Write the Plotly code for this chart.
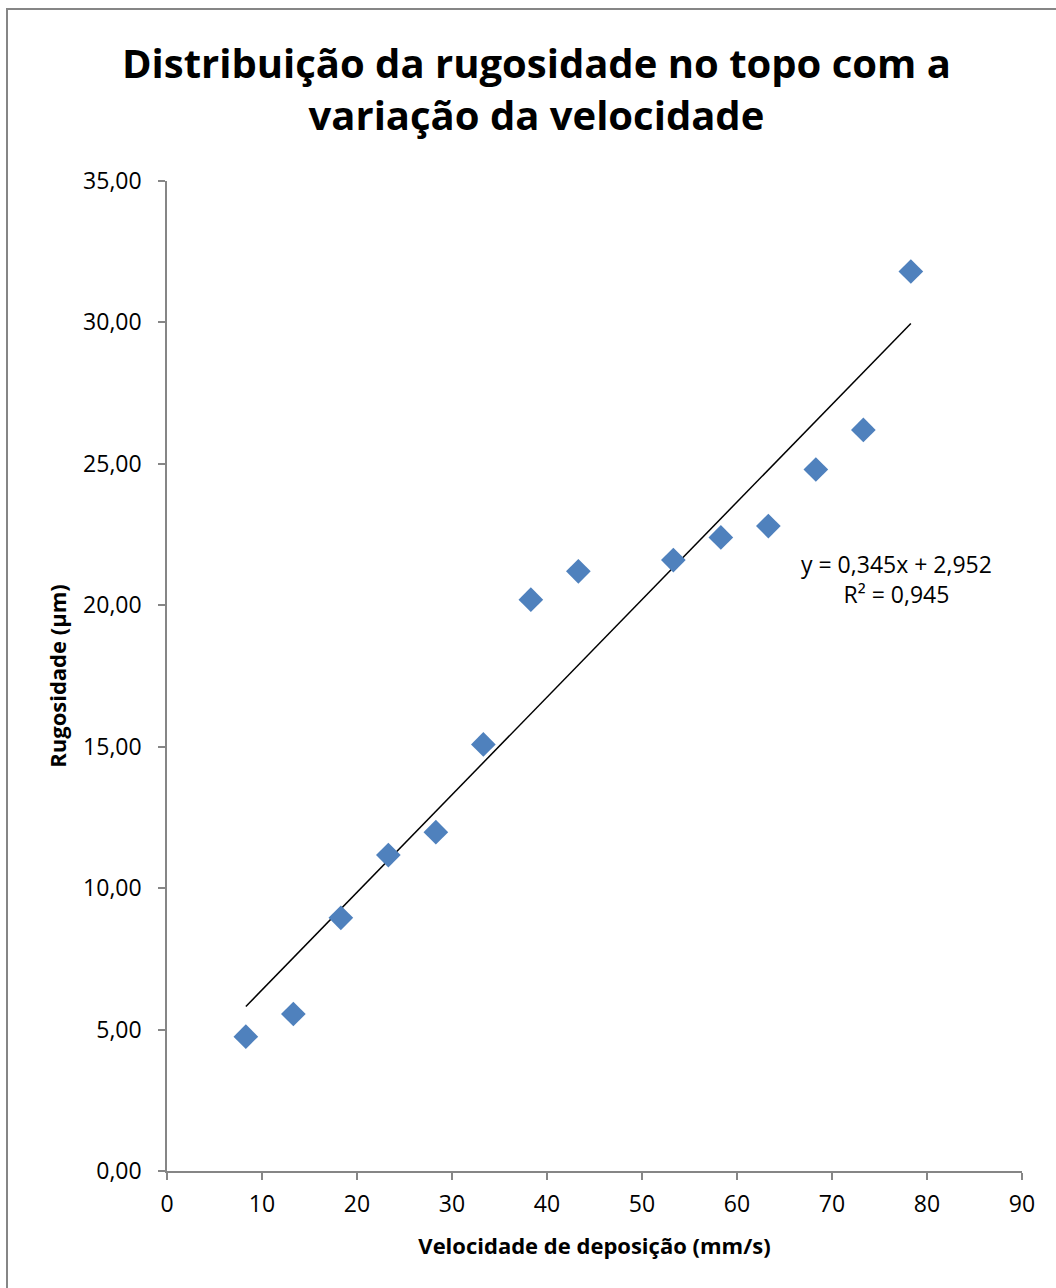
import numpy as np
import plotly.graph_objects as go

# Data
velocidade = [8.3, 13.3, 18.3, 23.3, 28.3, 33.3, 38.3, 43.3, 53.3, 58.3, 63.3, 68.3, 73.3, 78.3]
rugosidade = [4.75, 5.55, 8.95, 11.17, 11.98, 15.08, 20.2, 21.2, 21.6, 22.4, 22.8, 24.8, 26.2, 31.8]

# Trendline coefficients shown in the chart
slope = 0.345
intercept = 2.952
r2 = 0.945

y_ticks = [0, 5, 10, 15, 20, 25, 30, 35]
y_tick_labels = ["0,00", "5,00", "10,00", "15,00", "20,00", "25,00", "30,00", "35,00"]
x_ticks = [0, 10, 20, 30, 40, 50, 60, 70, 80, 90]

FONT = "Open Sans"

fig = go.Figure()

trend_x = [min(velocidade), max(velocidade)]
trend_y = [slope * v + intercept for v in trend_x]
fig.add_trace(go.Scatter(
    x=trend_x, y=trend_y, mode="lines",
    line=dict(color="black", width=1.5), hoverinfo="skip", showlegend=False,
))

fig.add_trace(go.Scatter(
    x=velocidade, y=rugosidade, mode="markers",
    marker=dict(symbol="diamond", size=19, color="#4F81BD",
                line=dict(width=0)),
    showlegend=False,
))

fig.update_layout(
    width=1056, height=1288,
    margin=dict(l=167, r=34, t=181, b=117),
    paper_bgcolor="white", plot_bgcolor="white",
    font=dict(family=FONT, color="black"),
    title=dict(
        text="<b>Distribuição da rugosidade no topo com a<br>variação da velocidade</b>",
        x=0.508, xref="container", xanchor="center",
        y=1 - 78 / 1288, yref="container", yanchor="middle",
        font=dict(family=FONT, size=40, color="black"),
    ),
    xaxis=dict(
        range=[0, 90], tickvals=x_ticks, ticktext=[str(t) for t in x_ticks],
        showgrid=False, zeroline=False,
        showline=True, linecolor="#868686", linewidth=1.5,
        ticks="outside", ticklen=7, tickcolor="#868686", tickwidth=1.5,
        ticklabelstandoff=5,
        tickfont=dict(family=FONT, size=23, color="black"),
        title=dict(text="<b>Velocidade de deposição (mm/s)</b>",
                   font=dict(family=FONT, size=22, color="black"), standoff=20),
    ),
    yaxis=dict(
        range=[0, 35], tickvals=y_ticks, ticktext=y_tick_labels,
        showgrid=False, zeroline=False,
        showline=True, linecolor="#868686", linewidth=1.5,
        ticks="outside", ticklen=7, tickcolor="#868686", tickwidth=1.5,
        ticklabelstandoff=12,
        tickfont=dict(family=FONT, size=23, color="black"),
        title=dict(text="<b>Rugosidade (µm)</b>",
                   font=dict(family=FONT, size=22, color="black"), standoff=10),
    ),
    annotations=[dict(
        text=f"y = {str(slope).replace('.', ',')}x + {str(intercept).replace('.', ',')}<br>R² = {str(r2).replace('.', ',')}",
        xref="paper", yref="paper", x=(896 - 167) / 855, y=(1171 - 579) / 990,
        xanchor="center", yanchor="middle", showarrow=False, align="center",
        font=dict(family=FONT, size=23, color="black"),
    )],
    shapes=[dict(
        type="rect", xref="paper", yref="paper",
        x0=(7 - 167) / 855, x1=1.2, y0=-0.2, y1=(1171 - 9) / 990,
        line=dict(color="#868686", width=2), fillcolor="rgba(0,0,0,0)", layer="below",
    )],
)

fig.write_html("out.html", config={"displayModeBar": False},
               post_script="document.body.style.margin='0';")
